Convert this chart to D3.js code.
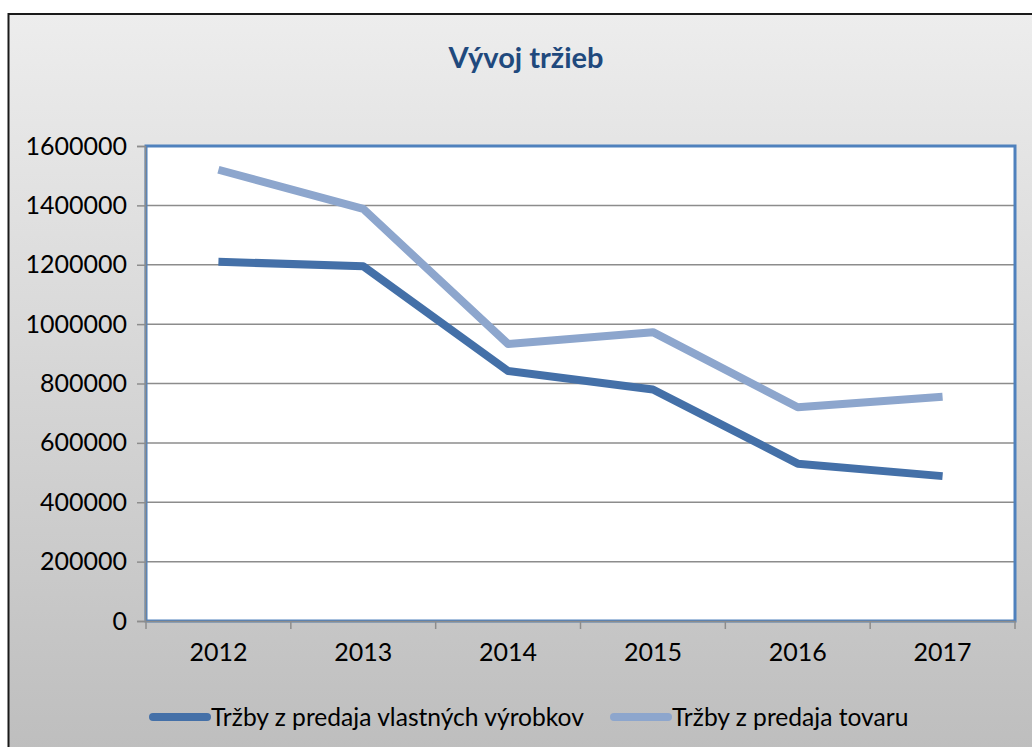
<!DOCTYPE html>
<html><head><meta charset="utf-8">
<script src="https://cdn.jsdelivr.net/npm/d3@7/dist/d3.min.js"></script>
<style>html,body{margin:0;padding:0;background:#fff;}svg{display:block;}</style>
</head><body>
<script>
const title = "Vývoj tržieb";
const years = ["2012","2013","2014","2015","2016","2017"];
const seriesNames = ["Tržby z predaja vlastných výrobkov","Tržby z predaja tovaru"];
const vyrobky = [1210000,1195000,842000,780000,530000,488000];
const tovar = [1520000,1388000,933000,973000,720000,755000];
const yTicks = [0,200000,400000,600000,800000,1000000,1200000,1400000,1600000];
const colors = ["#4470A8","#8DA6CD"];

const W = 1032, H = 747;
const svg = d3.select("body").append("svg").attr("width",W).attr("height",H);
const defs = svg.append("defs");
const g = defs.append("linearGradient").attr("id","bg").attr("x1",0).attr("y1",0).attr("x2",0).attr("y2",1);
g.append("stop").attr("offset","0%").attr("stop-color","#ededed");
g.append("stop").attr("offset","100%").attr("stop-color","#bcbcbc");

svg.append("rect").attr("x",8.5).attr("y",14).attr("width",W+20).attr("height",H+20)
  .attr("fill","url(#bg)").attr("stroke","#1a1a1a").attr("stroke-width",2);

const font = "Lato, 'Open Sans', sans-serif";
svg.append("text").attr("x",526).attr("y",68).attr("text-anchor","middle")
  .attr("font-family",font).attr("font-weight","bold").attr("font-size",29)
  .attr("fill","#1F497D").text(title);

const L = 146, T = 146, R = 1015, B = 621;
const x = d3.scaleBand().domain(years).range([L,R]);
const y = d3.scaleLinear().domain([0,1600000]).range([B,T]);

svg.append("rect").attr("x",L).attr("y",T).attr("width",R-L).attr("height",B-T)
  .attr("fill","#fff");

// gridlines
svg.append("g").selectAll("line").data(yTicks.filter(d=>d>0)).join("line")
  .attr("x1",L).attr("x2",R).attr("y1",d=>y(d)).attr("y2",d=>y(d))
  .attr("stroke","#8c8c8c").attr("stroke-width",1.5);

// plot area border
svg.append("rect").attr("x",L).attr("y",T).attr("width",R-L).attr("height",B-T)
  .attr("fill","none").attr("stroke","#4F81BD").attr("stroke-width",3);

// y axis
const yAxis = d3.axisLeft(y).tickValues(yTicks).tickSize(8).tickPadding(10).tickFormat(d3.format("d"));
const ya = svg.append("g").attr("transform",`translate(${L-1},0)`).call(yAxis);
ya.select(".domain").attr("stroke","#8c8c8c").attr("stroke-width",1.5);
ya.selectAll(".tick line").attr("stroke","#8c8c8c").attr("stroke-width",1.5);
ya.selectAll("text").attr("font-family",font).attr("font-size",25).attr("fill","#000");

// x axis
const xa = svg.append("g").attr("transform",`translate(0,${B})`)
  .call(d3.axisBottom(x).tickSize(0).tickPadding(22));
xa.select(".domain").attr("stroke","#8c8c8c").attr("stroke-width",1.5);
xa.selectAll("text").attr("font-family",font).attr("font-size",25).attr("fill","#000");
const xb = [...years.map(d=>x(d)), R];
xa.selectAll("line.sep").data(xb).join("line").attr("class","sep")
  .attr("x1",d=>d).attr("x2",d=>d).attr("y1",0).attr("y2",8)
  .attr("stroke","#8c8c8c").attr("stroke-width",1.5);

// lines
const line = d3.line().x((d,i)=>x(years[i])+x.bandwidth()/2).y(d=>y(d));
[vyrobky,tovar].forEach((s,i)=>{
  svg.append("path").datum(s).attr("d",line).attr("fill","none")
    .attr("stroke",colors[i]).attr("stroke-width",8).attr("stroke-linejoin","round");
});

// legend
const leg = [{x1:153,x2:207,tx:211},{x1:614,x2:668,tx:672}];
leg.forEach((l,i)=>{
  svg.append("line").attr("x1",l.x1).attr("x2",l.x2).attr("y1",717).attr("y2",717)
    .attr("stroke",colors[i]).attr("stroke-width",8).attr("stroke-linecap","round");
  svg.append("text").attr("x",l.tx).attr("y",726).attr("font-family",font)
    .attr("font-size",24.6).attr("fill","#000").text(seriesNames[i]);
});
</script>
</body></html>
